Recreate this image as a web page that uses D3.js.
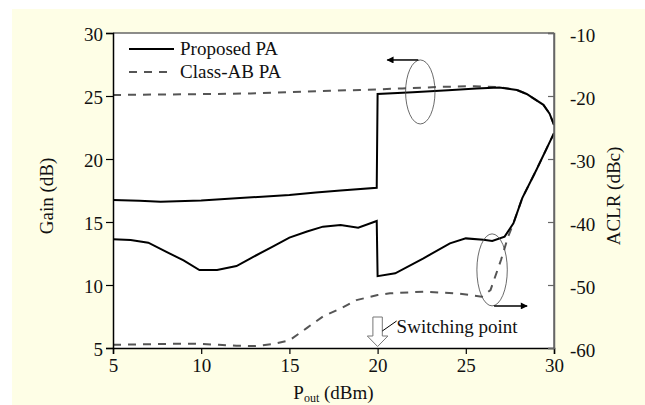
<!DOCTYPE html>
<html>
<head>
<meta charset="utf-8">
<script src="https://d3js.org/d3.v7.min.js"></script>
<style>
  body { margin: 0; background: #fff; }
  svg text { font-family: "Liberation Serif", "Times New Roman", serif; fill: #111; }
</style>
</head>
<body>
<svg id="chart" width="645" height="405"></svg>
<script>
// Pout (dBm) vs value pairs
var gainProposed = [[5,16.75],[6.5,16.68],[7.7,16.6],[10,16.7],[12.2,16.9],[15,17.15],[16.5,17.35],[17.9,17.5],[19.95,17.72],
  [20,25.16],[22,25.3],[24,25.45],[25.6,25.6],[26.9,25.68],[27.9,25.48],[28.45,25.16],[29.4,24.3],[29.75,23.6],[30,22.7]];
var gainClassAB = [[5,25.08],[10,25.15],[12.8,25.2],[15,25.3],[17.3,25.42],[19,25.48],[21.4,25.6],[23.5,25.72],[25.5,25.78],
  [26.9,25.7],[27.9,25.48],[28.45,25.16],[29.4,24.3],[29.75,23.6],[30,22.7]];
var aclrProposed = [[5,-42.74],[6,-42.84],[7,-43.28],[8,-44.7],[9,-46.1],[9.9,-47.62],[10.9,-47.62],[12,-47.0],[12.8,-45.76],
  [14,-44.0],[15,-42.48],[16,-41.5],[16.9,-40.74],[17.9,-40.48],[18.9,-40.9],[19.95,-39.84],[20,-48.6],[21,-48.14],
  [22.6,-45.76],[24.1,-43.4],[25,-42.6],[26,-42.8],[26.5,-43.0],[27.2,-42.32],[27.7,-40.2],[28.2,-36.2],[29,-31.74],[30,-25.9]];
var aclrClassAB = [[5,-59.5],[7,-59.4],[9,-59.3],[10,-59.36],[11,-59.5],[12,-59.64],[13,-59.7],[14,-59.4],[15,-58.8],
  [16,-56.8],[16.9,-55.0],[18,-53.6],[18.8,-52.4],[20,-51.6],[20.7,-51.32],[22.6,-51.06],[24.5,-51.32],[25.9,-51.86],
  [26.4,-50.8],[27,-46.0],[27.4,-42.3],[27.7,-40.2],[28.2,-36.2],[29,-31.74],[30,-25.9]];

var xTicks = [5, 10, 15, 20, 25, 30];
var gainTicks = [5, 10, 15, 20, 25, 30];
var aclrTicks = [-60, -50, -40, -30, -20, -10];
var legendLabels = ["Proposed PA", "Class-AB PA"];
var switchingPout = 20;

var margin = {top: 33, right: 91, bottom: 57, left: 113};
var width = 645 - margin.left - margin.right,
    height = 405 - margin.top - margin.bottom;
var fs = 19;
var serif = "Liberation Serif, Times New Roman, serif";

var svg = d3.select("#chart");

// yellow page background
svg.append("rect").attr("x", 12).attr("y", 9).attr("width", 633).attr("height", 396).attr("fill", "#fefee6");

var g = svg.append("g").attr("transform", "translate(" + margin.left + "," + margin.top + ")");

var x = d3.scaleLinear().domain([5, 30]).range([0, width]);
var yL = d3.scaleLinear().domain([5, 30]).range([height, 0]);
var yR = d3.scaleLinear().domain([-60, -10]).range([height, 0]);

g.append("rect").attr("width", width).attr("height", height).attr("fill", "#fff");

var lineL = d3.line().x(function(d) { return x(d[0]); }).y(function(d) { return yL(d[1]); });
var lineR = d3.line().x(function(d) { return x(d[0]); }).y(function(d) { return yR(d[1]); });

var dashCol = "#555";
g.append("path").attr("d", lineL(gainClassAB)).attr("fill", "none").attr("stroke", dashCol)
  .attr("stroke-width", 2).attr("stroke-dasharray", "8,7");
g.append("path").attr("d", lineR(aclrClassAB)).attr("fill", "none").attr("stroke", dashCol)
  .attr("stroke-width", 2).attr("stroke-dasharray", "8,7");
g.append("path").attr("d", lineL(gainProposed)).attr("fill", "none").attr("stroke", "#000").attr("stroke-width", 2);
g.append("path").attr("d", lineR(aclrProposed)).attr("fill", "none").attr("stroke", "#000").attr("stroke-width", 2);

// frame: top and right gray
g.append("line").attr("x1", 0).attr("x2", width).attr("y1", 0).attr("y2", 0).attr("stroke", "#666").attr("stroke-width", 1.5);
g.append("line").attr("x1", width).attr("x2", width).attr("y1", 0).attr("y2", height).attr("stroke", "#666").attr("stroke-width", 1.5);

// axes (plain hyphen minus like the original)
var fmt = function(d) { return String(d); };
var ax = g.append("g").attr("transform", "translate(0," + height + ")")
  .call(d3.axisBottom(x).tickValues(xTicks).tickFormat(fmt).tickSize(6).tickPadding(5));
var ayL = g.append("g").call(d3.axisLeft(yL).tickValues(gainTicks).tickFormat(fmt).tickSize(7).tickPadding(3));
var ayR = g.append("g").attr("transform", "translate(" + width + ",0)")
  .call(d3.axisRight(yR).tickValues(aclrTicks).tickFormat(fmt).tickSize(-6).tickPadding(16));
[ax, ayL, ayR].forEach(function(a) {
  a.attr("font-family", serif).attr("font-size", fs);
  a.selectAll("path").attr("stroke-width", 1.5);
  a.selectAll("line").attr("stroke-width", 1.2);
  a.selectAll("text").attr("font-size", fs).attr("font-family", serif).attr("fill", "#111");
});
ayR.select("path").attr("stroke", "#666");
ayR.selectAll("line").attr("stroke", "#666");
ayL.selectAll("text").attr("dy", "0.40em");
ayR.selectAll("text").attr("dy", "0.45em");

// axis titles
var xt = svg.append("text").attr("x", margin.left + width / 2).attr("y", 399).attr("text-anchor", "middle").attr("font-size", fs);
xt.append("tspan").text("P");
xt.append("tspan").attr("font-size", 12).attr("dy", 3).text("out");
xt.append("tspan").attr("dy", -3).text(" (dBm)");

svg.append("text").attr("transform", "translate(53,196) rotate(-90)").attr("text-anchor", "middle")
  .attr("font-size", fs).text("Gain (dB)");
svg.append("text").attr("transform", "translate(620,196) rotate(-90)").attr("text-anchor", "middle")
  .attr("font-size", fs).text("ACLR (dBc)");

// legend
var leg = g.append("g").attr("transform", "translate(16,16)");
legendLabels.forEach(function(lbl, i) {
  leg.append("line").attr("x1", 0).attr("x2", 45).attr("y1", i * 23).attr("y2", i * 23)
    .attr("stroke", i === 0 ? "#000" : dashCol).attr("stroke-width", 2)
    .attr("stroke-dasharray", i === 0 ? null : "8,7");
  leg.append("text").attr("x", 51).attr("y", i * 23 + 6).attr("font-size", fs).text(lbl);
});

// markers
var defs = svg.append("defs");
defs.append("marker").attr("id", "ah").attr("viewBox", "0 0 10 10").attr("refX", 9).attr("refY", 5)
  .attr("markerWidth", 9).attr("markerHeight", 7).attr("markerUnits", "userSpaceOnUse").attr("orient", "auto")
  .append("path").attr("d", "M0,0L10,5L0,10z").attr("fill", "#000");

// gain ellipse + arrow to left
var e1x = x(22.42), e1y = yL(25.32);
g.append("ellipse").attr("cx", e1x).attr("cy", e1y).attr("rx", 14.7).attr("ry", 32)
  .attr("fill", "none").attr("stroke", "#444").attr("stroke-width", 0.8);
g.append("line").attr("x1", e1x - 2).attr("y1", e1y - 32).attr("x2", e1x - 33).attr("y2", e1y - 32)
  .attr("stroke", "#000").attr("stroke-width", 1.5).attr("marker-end", "url(#ah)");

// ACLR ellipse + arrow to right
var e2x = x(26.49), e2y = yR(-47.6);
g.append("ellipse").attr("cx", e2x).attr("cy", e2y).attr("rx", 15.2).attr("ry", 36)
  .attr("fill", "none").attr("stroke", "#444").attr("stroke-width", 0.8);
g.append("line").attr("x1", e2x + 2).attr("y1", e2y + 36).attr("x2", e2x + 35).attr("y2", e2y + 36)
  .attr("stroke", "#000").attr("stroke-width", 1.5).attr("marker-end", "url(#ah)");

// switching point hollow arrow
var sx = x(switchingPout);
var arrowPts = [[-4.7, height - 31], [4.7, height - 31], [4.7, height - 12], [10.3, height - 12],
  [0, height - 1.5], [-10.3, height - 12], [-4.7, height - 12]];
g.append("polygon").attr("points", arrowPts.map(function(p) { return (sx + p[0]) + "," + p[1]; }).join(" "))
  .attr("fill", "#fff").attr("stroke", "#777").attr("stroke-width", 1);
g.append("line").attr("x1", sx + 4.7).attr("y1", height - 17).attr("x2", sx + 19).attr("y2", height - 27)
  .attr("stroke", "#000").attr("stroke-width", 1);
g.append("text").attr("x", sx + 19).attr("y", height - 15).attr("font-size", fs).text("Switching point");
</script>
</body>
</html>
